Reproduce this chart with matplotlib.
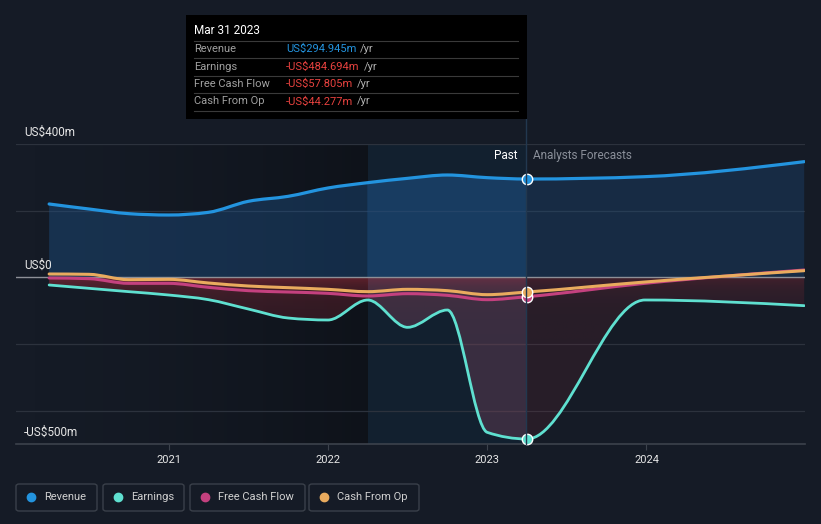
import numpy as np
import matplotlib
matplotlib.use("Agg")
import matplotlib.pyplot as plt
from matplotlib.path import Path
from matplotlib.patches import PathPatch, Rectangle, FancyBboxPatch
from matplotlib.lines import Line2D

plt.rcParams['font.family'] = ['Roboto', 'DejaVu Sans']

# data (US$ m), past quarters then analyst forecasts
dates = [2020.25, 2020.5, 2020.75, 2021.0, 2021.25, 2021.5, 2021.75, 2022.0,
         2022.25, 2022.5, 2022.75, 2023.0, 2023.25, 2023.99, 2024.99]
revenue = [220, 205, 191, 187, 195, 228, 243, 268, 284, 297, 307, 299, 295, 302, 347]
earnings = [-23, -33, -43, -53, -67, -95, -122, -128, -68, -150, -98, -465, -485, -68, -85]
fcf = [-2, -4, -18, -18, -30, -40, -44, -48, -56, -49, -54, -67, -58, -18, 22]
cfo = [10, 9, -7, -6, -17, -26, -31, -36, -43, -36, -40, -52, -44, -14, 20]

now = 2023.25
past_start = 2022.25
year_ticks = [2021, 2022, 2023, 2024]
legend_names = ["Revenue", "Earnings", "Free Cash Flow", "Cash From Op"]
tip_values = ["US$294.945m", "-US$484.694m", "-US$57.805m", "-US$44.277m"]

BG = "#151b26"
C_REV = "#2394df"
C_EARN = "#5fe0d0"
C_FCF = "#c4417f"
C_CFO = "#e9ab5e"
W, H = 821, 524


def px(x, y):
    return x / W, 1 - y / H


def mono_path(x, y):
    # monotone cubic as bezier segments (like d3 curveMonotoneX)
    x = np.asarray(x, float)
    y = np.asarray(y, float)
    h = np.diff(x)
    s = np.diff(y) / h
    n = len(x)
    m = np.zeros(n)
    for i in range(1, n - 1):
        if s[i - 1] * s[i] <= 0:
            m[i] = 0
        else:
            p = (s[i - 1] * h[i] + s[i] * h[i - 1]) / (h[i - 1] + h[i])
            m[i] = np.sign(s[i]) * min(abs(s[i - 1]), abs(s[i]), 0.5 * abs(p)) * 2
    m[0] = (3 * s[0] - m[1]) / 2 if n > 2 else s[0]
    m[-1] = (3 * s[-1] - m[-2]) / 2 if n > 2 else s[-1]
    verts = [(x[0], y[0])]
    codes = [Path.MOVETO]
    for i in range(n - 1):
        d = h[i] / 3
        verts += [(x[i] + d, y[i] + m[i] * d), (x[i + 1] - d, y[i + 1] - m[i + 1] * d), (x[i + 1], y[i + 1])]
        codes += [Path.CURVE4] * 3
    return verts, codes


def area_path(x, y):
    verts, codes = mono_path(x, y)
    verts = verts + [(x[-1], 0), (x[0], 0), (x[0], 0)]
    codes = codes + [Path.LINETO, Path.LINETO, Path.CLOSEPOLY]
    return Path(verts, codes)


fig = plt.figure(figsize=(W / 100, H / 100), dpi=100, facecolor=BG)
l, b = px(16, 444)
r, t = px(805, 144)
ax = fig.add_axes([l, b, r - l, t - b], facecolor=BG)
x0, x1 = 2020.042, 2024.995
ax.set_xlim(x0, x1)
ax.set_ylim(-500, 400)

# darkening toward the past window, and the highlighted past year
grad = np.zeros((2, 200, 4))
grad[..., 3] = np.linspace(0, 0.32, 200) ** 1.5 / 0.32 ** 0.5
ax.imshow(grad, extent=[x0, past_start, -500, 400], aspect='auto', zorder=0.5, interpolation='bilinear')
ax.axvspan(past_start, now, color="#0d1620", alpha=0.45, lw=0, zorder=0.6)
ax.axvspan(past_start, now, color="#1f5a8a", alpha=0.12, lw=0, zorder=0.7)

for v in [400, 200, -200, -400]:
    ax.axhline(v, color="#2c323d", lw=0.9, zorder=1)
ax.axhline(0, color="#8d9097", lw=1.0, zorder=3)

# revenue area
rev_path = area_path(dates, revenue)
rev_img = np.zeros((2, 400, 4))
rev_img[..., 0], rev_img[..., 1], rev_img[..., 2] = 0.12, 0.33, 0.55
xs = np.linspace(x0, x1, 400)
rev_img[..., 3] = np.where(xs < past_start, 0.4, np.where(xs < now, 0.55, 0.3))
im = ax.imshow(rev_img, extent=[x0, x1, 0, 400], aspect='auto', zorder=2, interpolation='nearest')
pp = PathPatch(rev_path, transform=ax.transData, fc='none', ec='none')
ax.add_patch(pp)
im.set_clip_path(pp)

# earnings area
earn_path = area_path(dates, earnings)
ys = np.linspace(0, -500, 300)
earn_img = np.zeros((300, 400, 4))
earn_img[..., 0], earn_img[..., 1], earn_img[..., 2] = 0.60, 0.17, 0.22
a_y = 0.24 + 0.36 * np.exp(ys / 35.0)
a_x = np.where(xs < past_start, 1.0, np.where(xs < now, 1.05, 0.6))
earn_img[..., 3] = a_y[:, None] * a_x[None, :]
im2 = ax.imshow(earn_img, extent=[x0, x1, -500, 0], aspect='auto', zorder=2, interpolation='bilinear')
pp2 = PathPatch(earn_path, transform=ax.transData, fc='none', ec='none')
ax.add_patch(pp2)
im2.set_clip_path(pp2)
# bluish tint over the highlighted part of the earnings area
tint = PathPatch(earn_path, transform=ax.transData, fc="#6a7fb0", ec='none', alpha=0.12, zorder=2.1)
ax.add_patch(tint)
tint.set_clip_box(None)
tint_rect = Rectangle((past_start, -500), now - past_start, 500, transform=ax.transData)
tint.set_clip_path(tint_rect)

# lines
for series, col, lw in [(earnings, C_EARN, 2.0), (fcf, C_FCF, 2.2), (cfo, C_CFO, 2.2), (revenue, C_REV, 2.3)]:
    v, c = mono_path(dates, series)
    ax.add_patch(PathPatch(Path(v, c), fc='none', ec=col, lw=lw, zorder=4, capstyle='round'))
    idx = dates.index(now)
    ax.plot([now], [series[idx]], 'o', ms=7.5, mfc=col, mec='white', mew=1.0, zorder=6, clip_on=False)

for s in ax.spines.values():
    s.set_visible(False)
ax.axhline(-500, color="#3c424c", lw=1.2, zorder=3, clip_on=False)
ax.set_yticks([])
ax.set_xticks(year_ticks)
ax.set_xticklabels([str(y) for y in year_ticks], color="#e6e6e6", fontsize=8)
ax.tick_params(axis='x', length=4, color="#3c424c", pad=4)

# y labels
for txt, yy in [("US$400m", 132), ("US$0", 265), ("-US$500m", 432)]:
    fig.text(*px(24, yy), txt, color="#e6e6e6", fontsize=8.5, va='center', ha='left')

fig.text(*px(517, 156), "Past", color="#ffffff", fontsize=8.5, va='center', ha='right')
fig.text(*px(533, 156), "Analysts Forecasts", color="#8a8f99", fontsize=8.5, va='center', ha='left')

# vertical now line
fig.add_artist(Line2D([px(525.5, 0)[0]] * 2, [px(0, 119)[1], px(0, 444)[1]], color="#22384f", lw=1.0,
                      transform=fig.transFigure, zorder=2))

# tooltip
tx, ty = px(186, 119)
tw, th = 341 / W, 104 / H
fig.add_artist(Rectangle((tx, ty), tw, th, transform=fig.transFigure, fc="#000000", ec="none", zorder=10))
fig.text(*px(194, 31), "Mar 31 2023", color="#ffffff", fontsize=8.5, va='center', zorder=11)
for yy in [41, 58, 76, 93, 111]:
    fig.add_artist(Line2D([px(194, 0)[0], px(518, 0)[0]], [px(0, yy)[1]] * 2, color="#3a3a3a", lw=0.8,
                          transform=fig.transFigure, zorder=11))
for i, (name, val) in enumerate(zip(legend_names, tip_values)):
    yy = 49 + i * 17.5
    fig.text(*px(194, yy), name, color="#a0a0a0", fontsize=8, va='center', zorder=11)
    vcol = C_REV if not val.startswith("-") else "#e8423f"
    t = fig.text(*px(286, yy), val, color=vcol, fontsize=8, va='center', zorder=11)
    fig.canvas.draw()
    bb = t.get_window_extent()
    fig.text(bb.x1 / W + 4 / W, px(0, yy)[1], "/yr", color="#b0b0b0", fontsize=8, va='center', zorder=11)

# legend boxes
boxes = [(16, 97), (103, 184), (190, 305), (309, 419)]
for (bx0, bx1), name, col in zip(boxes, legend_names, [C_REV, C_EARN, C_FCF, C_CFO]):
    x_, y_ = px(bx0, 511)
    fig.add_artist(FancyBboxPatch((x_, y_), (bx1 - bx0) / W, 27 / H, boxstyle="round,pad=0,rounding_size=0.004",
                                  transform=fig.transFigure, fc="none", ec="#3a404a", lw=1.0))
    fig.add_artist(Line2D([px(bx0 + 15, 0)[0]], [px(0, 497)[1]], marker='o', ms=6, color=col, mec=col,
                          transform=fig.transFigure))
    fig.text(*px(bx0 + 28, 497), name, color="#d0d0d0", fontsize=8, va='center', ha='left')

fig.savefig("out.png", dpi=100, facecolor=BG)
